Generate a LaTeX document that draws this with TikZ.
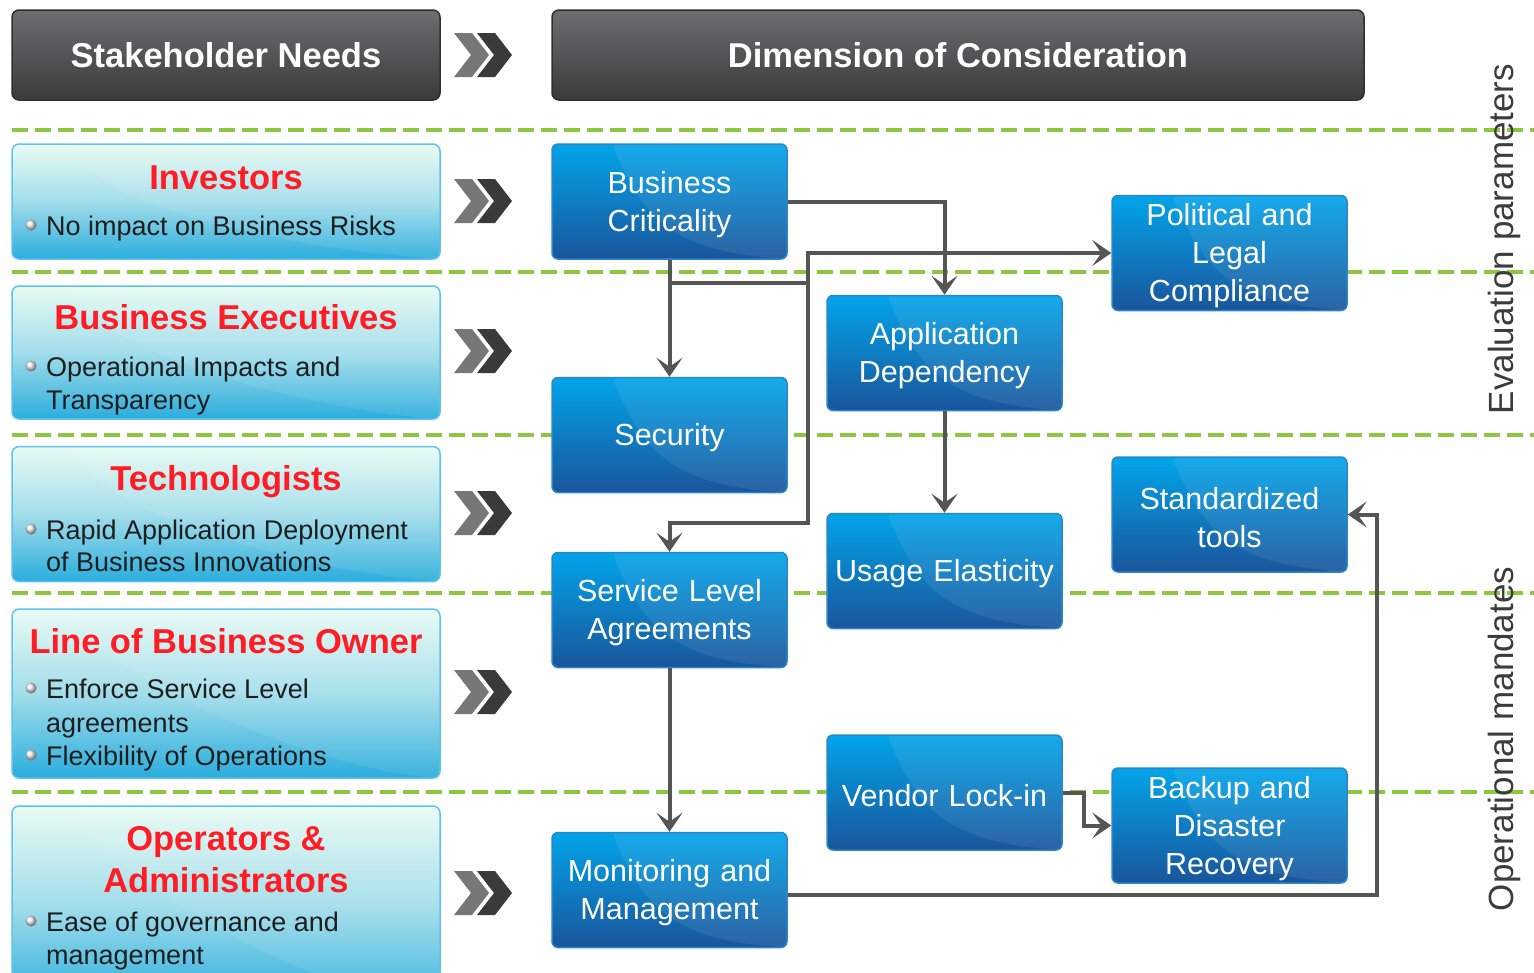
\documentclass[tikz,border=0pt]{standalone}
\usepackage{fontspec}
\setmainfont{Liberation Sans}
\usetikzlibrary{positioning,arrows.meta}
\definecolor{bandgreen}{HTML}{8DC63F}
\definecolor{linegray}{HTML}{555555}
\definecolor{headtop}{HTML}{6D6E70}
\definecolor{headbot}{HTML}{3A3A3A}
\definecolor{headedge}{HTML}{2F2F2F}
\definecolor{needtop}{HTML}{E8FBF3}
\definecolor{needmid}{HTML}{A2DDEA}
\definecolor{needbot}{HTML}{2AADDD}
\definecolor{neededge}{HTML}{5CC3EC}
\definecolor{needred}{HTML}{FF1C24}
\definecolor{needtext}{HTML}{1E1E1E}
\definecolor{dimtop}{HTML}{02A4EA}
\definecolor{dimbot}{HTML}{1A559B}
\definecolor{dimedge}{HTML}{2B86C9}
\definecolor{chevlight}{HTML}{777777}
\definecolor{chevdark}{HTML}{3A3A3A}
\definecolor{sidetext}{HTML}{3C3C3C}
\tikzset{
     gloss/.style={path picture={
       \fill[white,opacity=.08] ([xshift=60pt]path picture bounding box.north west)
         .. controls ([xshift=90pt,yshift=-70pt]path picture bounding box.north west) and ([xshift=-120pt,yshift=8pt]path picture bounding box.south east)
         .. (path picture bounding box.south east) -- (path picture bounding box.north east) -- cycle;}},
     headbox/.style={draw=headedge, line width=1.5pt, rounded corners=7pt, top color=headtop, bottom color=headbot,
       text=white, font=\fontsize{34.5}{40}\selectfont\bfseries, minimum height=90pt},
     needbox/.style={draw=neededge, line width=1.5pt, rounded corners=7pt, top color=needtop, bottom color=needbot,
       middle color=needmid, minimum width=428pt, gloss},
     needtitle/.style={anchor=base, text=needred, font=\fontsize{34.5}{42}\selectfont\bfseries, inner sep=0pt},
     needitem/.style={anchor=base west, text=needtext, font=\fontsize{27}{33}\selectfont, inner sep=0pt},
     dimbox/.style={draw=dimedge, line width=1.5pt, rounded corners=6pt, top color=dimtop, bottom color=dimbot,
       text=white, minimum width=235pt, minimum height=115pt, text width=230pt, align=center, inner sep=0pt,
       font=\fontsize{30.5}{38}\selectfont, execute at begin node={\rule{0pt}{28pt}}, gloss},
     conn/.style={draw=linegray, line width=4pt, -{Stealth[length=19pt,width=26pt,inset=9pt]}},
     band/.style={draw=bandgreen, line width=4pt, dash pattern=on 16pt off 7pt},
     sidelabel/.style={rotate=90, text=sidetext, font=\fontsize{35}{40}\selectfont},
     }
\newcommand{\bulletdot}[1]{\shade[ball color=gray!15] (31,#1) circle (5.5);}

\begin{document}
\begin{tikzpicture}[x=1pt,y=-1pt]
    \useasboundingbox (0,0) rectangle (1534,972);
    % Dashed bands
    \foreach \y in {130,272,435,593,792}
        \draw[band] (12,\y) -- (1534,\y);
    % Headers
    \node[headbox, minimum width=428pt] (needs) at (226,55) {Stakeholder Needs};
    \node[headbox, minimum width=812pt] (dims) at (958,55) {Dimension of Consideration};
    % Stakeholder boxes
    \node[needbox, minimum height=115pt] (inv) at (226,201.5) {};
    \node[needbox, minimum height=133pt] (exe) at (226,352.5) {};
    \node[needbox, minimum height=135pt] (tech) at (226,514) {};
    \node[needbox, minimum height=169pt] (lob) at (226,693.5) {};
    \node[needbox, minimum height=200pt] (ops) at (226,906) {};
    \node[needtitle] (invT) at (226,189) {Investors};
    \bulletdot{225}
    \node[needitem] (invA) at (46,235) {No impact on Business Risks};
    \node[needtitle] (exeT) at (226,329) {Business Executives};
    \bulletdot{366}
    \node[needitem] (exeA) at (46,376) {Operational Impacts and};
    \node[needitem] (exeB) at (46,409) {Transparency};
    \node[needtitle] (techT) at (226,490) {Technologists};
    \bulletdot{529}
    \node[needitem] (techA) at (46,539) {Rapid Application Deployment};
    \node[needitem] (techB) at (46,571) {of Business Innovations};
    \node[needtitle] (lobT) at (226,653) {Line of Business Owner};
    \bulletdot{688}
    \node[needitem] (lobA) at (46,698) {Enforce Service Level};
    \node[needitem] (lobB) at (46,732) {agreements};
    \bulletdot{755}
    \node[needitem] (lobC) at (46,765) {Flexibility of Operations};
    \node[needtitle] (opsT) at (226,850) {Operators \&};
    \node[needtitle] (opsU) at (226,892) {Administrators};
    \bulletdot{921}
    \node[needitem] (opsA) at (46,931) {Ease of governance and};
    \node[needitem] (opsB) at (46,964) {management};
    % Chevrons
    \foreach \y in {55,201,351,513,692,893} {
        \fill[chevlight] (454,\y-22) -- ++(18,0) -- ++(17,22) -- ++(-17,22) -- ++(-18,0) -- ++(17,-22) -- cycle;
        \fill[chevdark] (477,\y-22) -- ++(18,0) -- ++(17,22) -- ++(-17,22) -- ++(-18,0) -- ++(17,-22) -- cycle;
    }
    % Dimension boxes
    \node[dimbox] (crit) at (669.5,201.5) {Business\\Criticality};
    \node[dimbox] (sec) at (669.5,435) {Security};
    \node[dimbox] (sla) at (669.5,610) {Service Level\\Agreements};
    \node[dimbox] (mon) at (669.5,890) {Monitoring and\\Management};
    \node[dimbox] (dep) at (944.5,353) {Application\\Dependency};
    \node[dimbox] (use) at (944.5,571) {Usage Elasticity};
    \node[dimbox] (lock) at (944.5,792.5) {Vendor Lock-in};
    \node[dimbox] (legal) at (1229.5,253) {Political and\\Legal\\Compliance};
    \node[dimbox] (tools) at (1229.5,514.5) {Standardized\\tools};
    \node[dimbox] (backup) at (1229.5,825.5) {Backup and\\Disaster\\Recovery};
    % Connectors
    \coordinate (split) at (669.5,283);
    \coordinate (rail) at (808,283);
    \coordinate (slaturn) at (669.5,523);
    \draw[conn] (crit.east) -| (dep.north);
    \draw[conn] (crit.south) -- (sec.north);
    \draw[draw=linegray, line width=4pt] (split) -- (rail);
    \draw[conn] (rail) |- (legal.west);
    \draw[conn] (rail) |- (slaturn) -- (sla.north);
    \draw[conn] (dep.south) -- (use.north);
    \draw[conn] (sla.south) -- (mon.north);
    \draw[conn] (lock.east) -- ++(21,0) |- (backup.west);
    \draw[conn] ([yshift=-5pt]mon.east) -- ++(589,0) |- (tools.east);
    % Side labels
    \node[sidelabel] (evalL) at (1504,239) {Evaluation parameters};
    \node[sidelabel] (opsL) at (1504,739) {Operational mandates};
\end{tikzpicture}
\end{document}
